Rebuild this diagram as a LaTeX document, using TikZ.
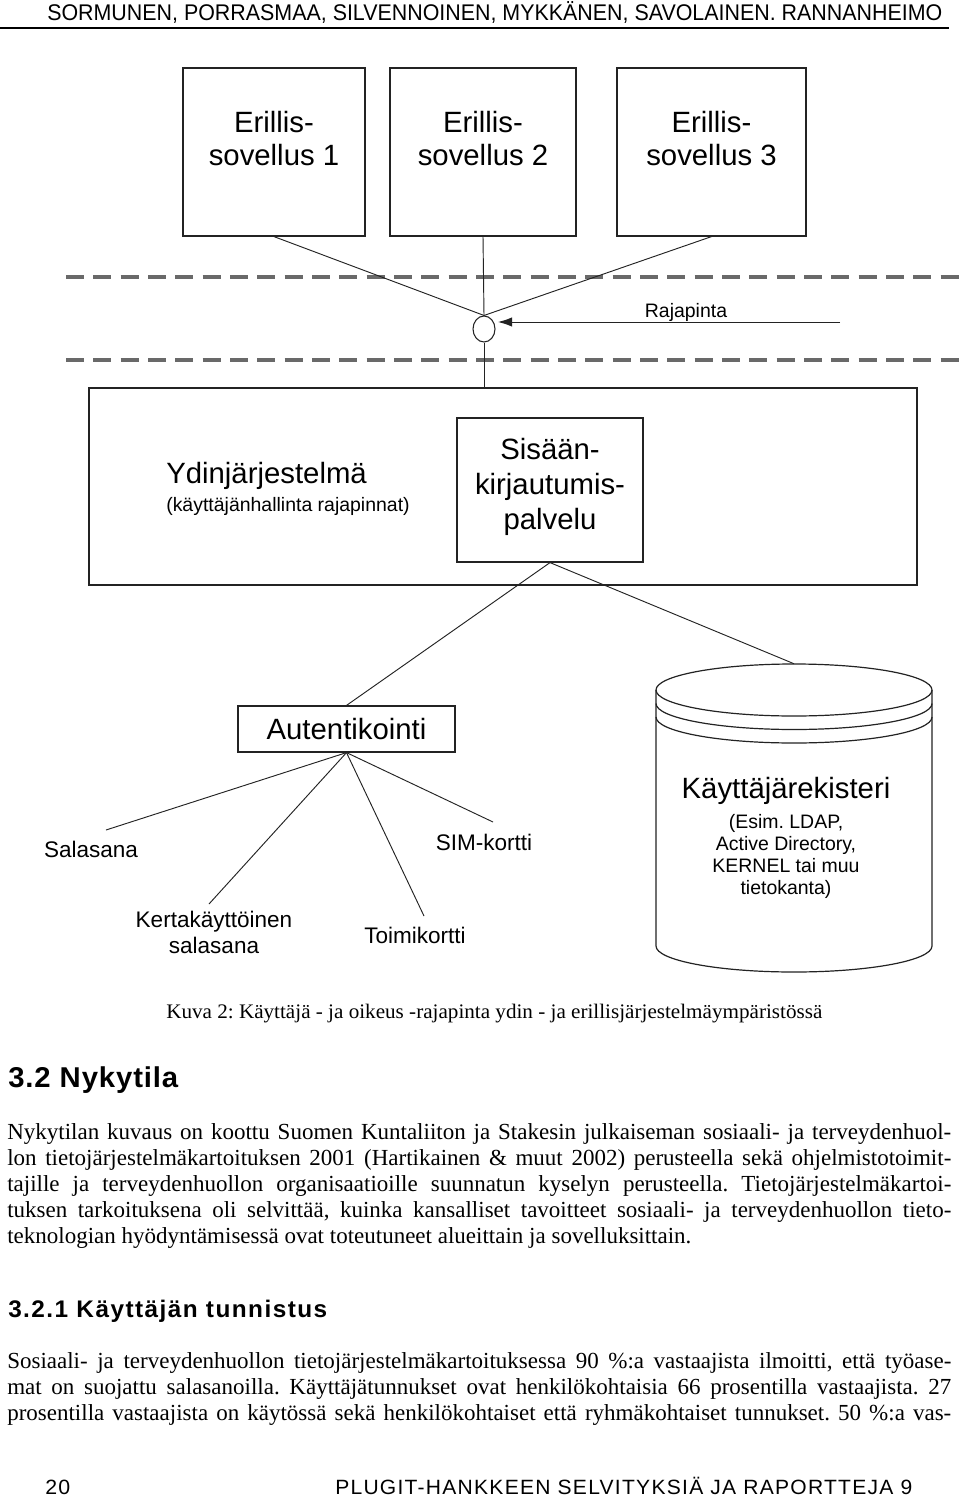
\documentclass[tikz,border=0pt]{standalone}
\usepackage{fontspec}
\usepackage{graphicx}
\setmainfont{Liberation Serif}
\setsansfont{Liberation Sans}
\usetikzlibrary{arrows.meta,shapes.geometric}
\definecolor{dashgray}{RGB}{105,105,105}
\definecolor{linegray}{RGB}{35,35,35}
\newcommand\fsz[2]{\fontsize{#1}{#2}\selectfont}
\newcommand\jl[1]{\makebox[708pt][s]{#1}}
\frenchspacing
\begin{document}
\begin{tikzpicture}[x=0.75pt,y=-0.75pt,
  box/.style={draw=linegray, line width=0.9pt, inner sep=0pt, align=center, font=\sffamily\fsz{21.75pt}{24.75pt}},
  boxtext/.style={inner sep=0pt, align=center, font=\sffamily\fsz{22pt}{24.75pt}},
  conn/.style={draw=linegray, line width=0.7pt},
  dashline/.style={draw=dashgray, line width=2.3pt, dash pattern=on 13.5pt off 7pt},
  lbl/.style={inner sep=0pt, font=\sffamily\fsz{16.9pt}{19.5pt}, align=center},
  small/.style={inner sep=0pt, font=\sffamily\fsz{14.6pt}{16.5pt}, align=center},
  big/.style={inner sep=0pt, font=\sffamily\fsz{22pt}{26pt}},
  body/.style={inner sep=0pt, anchor=base west, font=\rmfamily\fsz{17.25pt}{20pt}},
  head/.style={inner sep=0pt, anchor=base west},
]
\useasboundingbox (0,0) rectangle (960,1498);
\fill[white] (0,0) rectangle (960,1498);

% page header
\node[anchor=base west, inner sep=0pt, font=\sffamily\fsz{17pt}{20pt}] (hdr) at (47,21)
  {\resizebox{671.25pt}{\height}{SORMUNEN, PORRASMAA, SILVENNOINEN, MYKKÄNEN, SAVOLAINEN. RANNANHEIMO}};
\draw[line width=1.4pt] (0,28) -- (949,28);

% separate applications
\node[box, minimum width=136.5pt, minimum height=126pt] (e1) at (274,152) {};
\node[box, minimum width=139.5pt, minimum height=126pt] (e2) at (483,152) {};
\node[box, minimum width=141.75pt, minimum height=126pt] (e3) at (711.5,152) {};
\node[boxtext] (e1t) at (274,139) {Erillis-\\sovellus 1};
\node[boxtext] (e2t) at (483,139) {Erillis-\\sovellus 2};
\node[boxtext] (e3t) at (711.5,139) {Erillis-\\sovellus 3};

% interface layer
\draw[dashline] (66,277) -- (960,277);
\draw[dashline] (66,360) -- (960,360);
\node[draw=linegray, line width=0.8pt, ellipse, minimum width=16.5pt, minimum height=19.5pt, inner sep=0pt, fill=white] (c) at (484,329) {};
\foreach \b in {e1,e2,e3} \draw[conn] (\b.south) -- (c.north);
\coordinate (rs) at (840,322);
\coordinate (rt) at (498,322);
\draw[conn, -{Latex[length=10.5pt,width=7pt]}] (rs) -- (rt);
\node[small, anchor=base] (raja) at (686,317) {Rajapinta};

% core system
\node[box, minimum width=621pt, minimum height=147.75pt] (core) at (503,486.5) {};
\draw[conn] (c.south) -- (c.south |- core.north);
\node[big, anchor=base west] (ydin) at (166,483) {Ydinjärjestelmä};
\node[small, anchor=base west] (ydinsub) at (166,511) {(käyttäjänhallinta rajapinnat)};
\node[box, minimum width=139.5pt, minimum height=108pt] (login) at (550,490) {};
\node[boxtext, font=\sffamily\fsz{22pt}{26.25pt}] (logint) at (550,487) {Sisään-\\kirjautumis-\\palvelu};

% authentication
\node[box, font=\sffamily\fsz{22pt}{26pt}, minimum width=162.75pt, minimum height=34.5pt] (auth) at (346.5,729) {Autentikointi};

% user register cylinder
\node[inner sep=0pt, minimum width=207pt, minimum height=231pt] (reg) at (794,818) {};
\draw[conn] (login.south) -- (auth.north);
\draw[conn] (login.south) -- (reg.north);
\fill[white] (656,690) -- (656,946) arc[start angle=180, end angle=360, x radius=103.5pt, y radius=19.5pt] -- (932,690) -- cycle;
\draw[linegray, line width=0.9pt] (794,690) ellipse [x radius=103.5pt, y radius=19.5pt];
\draw[linegray, line width=0.9pt] (656,703.5) arc[start angle=180, end angle=360, x radius=103.5pt, y radius=19.5pt];
\draw[linegray, line width=0.9pt] (656,717) arc[start angle=180, end angle=360, x radius=103.5pt, y radius=19.5pt];
\draw[linegray, line width=0.9pt] (656,690) -- (656,946) arc[start angle=180, end angle=360, x radius=103.5pt, y radius=19.5pt] -- (932,690);
\node[big, anchor=base] (regt) at (786,798) {Käyttäjärekisteri};
\node[small] (regs) at (786,856) {(Esim. LDAP,\\Active Directory,\\KERNEL tai muu\\tietokanta)};

% authentication methods
\node[lbl, anchor=base] (lsal) at (91,857) {Salasana};
\node[lbl, anchor=base] (lsim) at (484,850) {SIM-kortti};
\node[lbl] (lker) at (214,932) {Kertakäyttöinen\\salasana};
\node[lbl, anchor=base] (ltoi) at (415,943) {Toimikortti};
\coordinate (psal) at (106,830);
\coordinate (pker) at (209,904);
\coordinate (ptoi) at (424,916);
\coordinate (psim) at (493,822);
\foreach \p in {psal,pker,ptoi,psim} \draw[conn] (auth.south) -- (\p);

% caption
\node[anchor=base west, inner sep=0pt, font=\rmfamily\fsz{15.5pt}{17pt}] (cap) at (166,1018)
  {\resizebox{492pt}{\height}{Kuva 2: Käyttäjä - ja oikeus -rajapinta ydin - ja erillisjärjestelmäympäristössä}};

% section 3.2
\node[head, font=\sffamily\bfseries\fsz{21.5pt}{24pt}] (h1) at (8,1087)
  {\resizebox{127.5pt}{\height}{\addfontfeature{LetterSpace=3}3.2 Nykytila}};
\node[body] (p1a) at (7,1139) {\jl{Nykytilan kuvaus on koottu Suomen Kuntaliiton ja Stakesin julkaiseman sosiaali- ja terveydenhuol-}};
\node[body] (p1b) at (7,1165) {\jl{lon tietojärjestelmäkartoituksen 2001 (Hartikainen \& muut 2002) perusteella sekä ohjelmistotoimit-}};
\node[body] (p1c) at (7,1191) {\jl{tajille ja terveydenhuollon organisaatioille suunnatun kyselyn perusteella. Tietojärjestelmäkartoi-}};
\node[body] (p1d) at (7,1217) {\jl{tuksen tarkoituksena oli selvittää, kuinka kansalliset tavoitteet sosiaali- ja terveydenhuollon tieto-}};
\node[body] (p1e) at (7,1243) {teknologian hyödyntämisessä ovat toteutuneet alueittain ja sovelluksittain.};

% section 3.2.1
\node[head, font=\sffamily\bfseries\fsz{18pt}{21pt}] (h2) at (8,1317)
  {\resizebox{239.25pt}{\height}{\addfontfeature{LetterSpace=6}3.2.1 Käyttäjän tunnistus}};
\node[body] (p2a) at (7,1368) {\jl{Sosiaali- ja terveydenhuollon tietojärjestelmäkartoituksessa 90 \%:a vastaajista ilmoitti, että työase-}};
\node[body] (p2b) at (7,1394) {\jl{mat on suojattu salasanoilla. Käyttäjätunnukset ovat henkilökohtaisia 66 prosentilla vastaajista. 27}};
\node[body] (p2c) at (7,1420) {\jl{prosentilla vastaajista on käytössä sekä henkilökohtaiset että ryhmäkohtaiset tunnukset. 50 \%:a vas-}};

% footer
\node[anchor=base west, inner sep=0pt, font=\sffamily\fsz{15.5pt}{18pt}] (pg) at (45,1494)
  {\resizebox{18.75pt}{\height}{\addfontfeature{LetterSpace=6}20}};
\node[anchor=base west, inner sep=0pt, font=\sffamily\fsz{15.5pt}{18pt}] (ft) at (335,1494)
  {\resizebox{432.75pt}{\height}{\addfontfeature{LetterSpace=6}PLUGIT-HANKKEEN SELVITYKSIÄ JA RAPORTTEJA 9}};
\end{tikzpicture}
\end{document}
